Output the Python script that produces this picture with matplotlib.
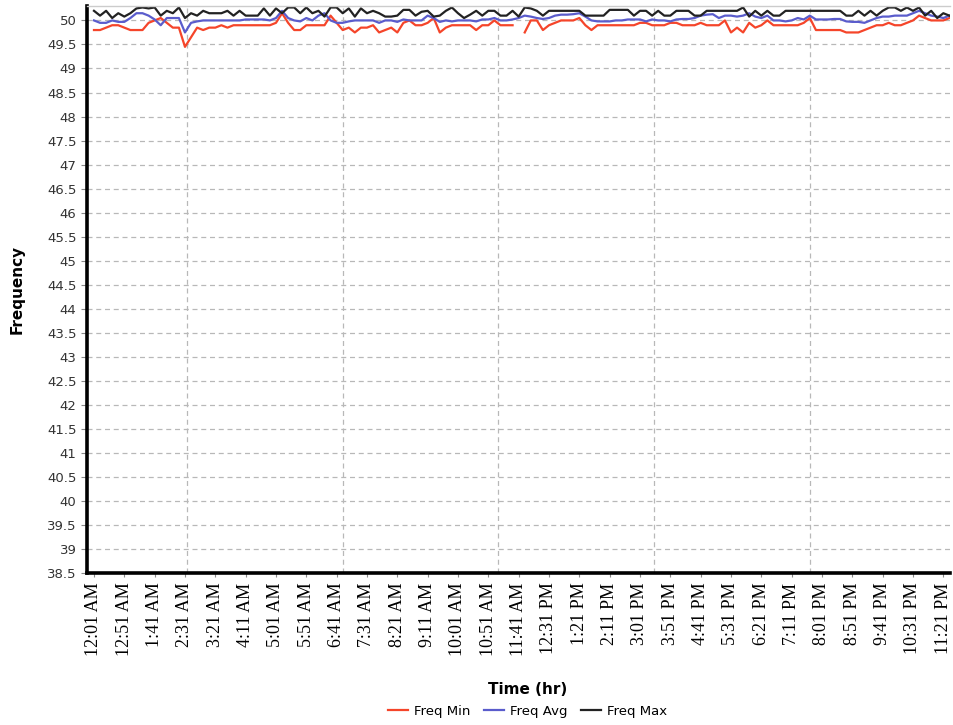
import matplotlib
matplotlib.use("Agg")
import matplotlib.pyplot as plt
import numpy as np

# 10-minute samples starting 12:01 AM
tick_labels = ['12:01 AM', '12:51 AM', '1:41 AM', '2:31 AM', '3:21 AM', '4:11 AM', '5:01 AM',
               '5:51 AM', '6:41 AM', '7:31 AM', '8:21 AM', '9:11 AM', '10:01 AM', '10:51 AM',
               '11:41 AM', '12:31 PM', '1:21 PM', '2:11 PM', '3:01 PM', '3:51 PM', '4:41 PM',
               '5:31 PM', '6:21 PM', '7:11 PM', '8:01 PM', '8:51 PM', '9:41 PM', '10:31 PM',
               '11:21 PM']

freq_min = [49.8, 49.8, 49.85, 49.9, 49.9, 49.85, 49.8, 49.8, 49.8, 49.95,
            50.0, 50.05, 49.95, 49.85, 49.85, 49.45, 49.65, 49.85, 49.8, 49.85,
            49.85, 49.9, 49.85, 49.9, 49.9, 49.9, 49.9, 49.9, 49.9, 49.9,
            49.95, 50.15, 49.95, 49.8, 49.8, 49.9, 49.9, 49.9, 49.9, 50.1,
            49.95, 49.8, 49.85, 49.75, 49.85, 49.85, 49.9, 49.75, 49.8, 49.85,
            49.75, 49.95, 50.0, 49.9, 49.9, 49.95, 50.05, 49.75, 49.85, 49.9,
            49.9, 49.9, 49.9, 49.8, 49.9, 49.9, 50.0, 49.9, 49.9, 49.9,
            np.nan, 49.75, 50.0, 50.0, 49.8, 49.9, 49.95, 50.0, 50.0, 50.0,
            50.05, 49.9, 49.8, 49.9, 49.9, 49.9, 49.9, 49.9, 49.9, 49.9,
            49.95, 49.95, 49.9, 49.9, 49.9, 49.95, 49.95, 49.9, 49.9, 49.9,
            49.95, 49.9, 49.9, 49.9, 50.0, 49.75, 49.85, 49.75, 49.95, 49.85,
            49.9, 50.0, 49.9, 49.9, 49.9, 49.9, 49.9, 49.95, 50.05, 49.8,
            49.8, 49.8, 49.8, 49.8, 49.75, 49.75, 49.75, 49.8, 49.85, 49.9,
            49.9, 49.95, 49.9, 49.9, 49.95, 50.0, 50.1, 50.05, 50.0, 50.0,
            50.0, 50.05]

freq_avg = [50.0, 49.95, 49.95, 50.0, 49.97, 49.97, 50.05, 50.15, 50.15, 50.1,
            50.02, 49.9, 50.05, 50.05, 50.05, 49.75, 49.95, 49.98, 50.0, 50.0,
            50.0, 50.0, 50.0, 50.0, 50.0, 50.02, 50.02, 50.02, 50.02, 50.0,
            50.05, 50.2, 50.05, 50.0, 49.98, 50.05, 50.0, 50.1, 50.15, 50.0,
            49.95, 49.95, 49.98, 50.0, 50.0, 50.0, 50.0, 49.95, 50.0, 50.0,
            49.97, 50.02, 50.0, 50.0, 50.0, 50.1, 50.05, 49.97, 50.0, 49.98,
            50.0, 50.0, 50.0, 49.98, 50.02, 50.02, 50.05, 50.0, 50.0, 50.02,
            50.05, 50.1, 50.08, 50.05, 50.03, 50.05, 50.1, 50.12, 50.12, 50.13,
            50.15, 50.08, 50.0, 49.98, 49.98, 49.98, 50.0, 50.0, 50.02, 50.02,
            50.02, 49.98, 50.02, 50.0, 50.0, 49.98, 50.02, 50.03, 50.03, 50.05,
            50.1, 50.12, 50.13, 50.05, 50.1, 50.1, 50.08, 50.1, 50.15, 50.08,
            50.05, 50.1, 50.0, 50.0, 49.98, 50.0, 50.05, 50.02, 50.1, 50.02,
            50.02, 50.02, 50.03, 50.03, 49.98, 49.97, 49.97, 49.95, 50.0, 50.05,
            50.08, 50.08, 50.1, 50.1, 50.1, 50.15, 50.2, 50.15, 50.1, 50.08,
            50.05, 50.1]

freq_max = [50.2, 50.1, 50.2, 50.05, 50.15, 50.08, 50.15, 50.25, 50.27, 50.25,
            50.27, 50.1, 50.2, 50.15, 50.27, 50.05, 50.15, 50.1, 50.2, 50.15,
            50.15, 50.15, 50.2, 50.1, 50.2, 50.1, 50.1, 50.1, 50.25, 50.1,
            50.25, 50.15, 50.27, 50.27, 50.15, 50.27, 50.15, 50.2, 50.08, 50.27,
            50.27, 50.15, 50.25, 50.08, 50.25, 50.15, 50.2, 50.15, 50.08, 50.08,
            50.1, 50.22, 50.22, 50.1, 50.18, 50.2, 50.08, 50.1, 50.2, 50.27,
            50.15, 50.05, 50.12, 50.2, 50.1, 50.2, 50.2, 50.1, 50.1, 50.2,
            50.08, 50.27, 50.25, 50.2, 50.1, 50.2, 50.2, 50.2, 50.2, 50.2,
            50.2, 50.1, 50.1, 50.1, 50.1, 50.22, 50.22, 50.22, 50.22, 50.1,
            50.2, 50.2, 50.1, 50.2, 50.1, 50.1, 50.2, 50.2, 50.2, 50.1,
            50.1, 50.2, 50.2, 50.2, 50.2, 50.2, 50.2, 50.27, 50.08, 50.2,
            50.1, 50.2, 50.1, 50.1, 50.2, 50.2, 50.2, 50.2, 50.2, 50.2,
            50.2, 50.2, 50.2, 50.2, 50.1, 50.1, 50.2, 50.1, 50.2, 50.1,
            50.2, 50.27, 50.27, 50.2, 50.27, 50.2, 50.27, 50.1, 50.2, 50.05,
            50.15, 50.1]

x = np.arange(len(freq_min))
yticks = np.arange(38.5, 50.01, 0.5)

fig = plt.figure(figsize=(9.54, 7.25), dpi=100)
ax = fig.add_axes([0.0912, 0.2097, 0.9046, 0.782])

ax.plot(x, freq_min, color='#f5452a', lw=1.6, label='Freq Min')
ax.plot(x, freq_avg, color='#5a5ccc', lw=1.6, label='Freq Avg')
ax.plot(x, freq_max, color='#222222', lw=1.6, label='Freq Max')

ax.set_xlim(-1.15, 141.1)
ax.set_ylim(38.5, 50.3)

ax.set_yticks(yticks)
ax.set_yticklabels(['%g' % v for v in yticks])
ax.set_xticks(np.arange(0, len(tick_labels) * 5, 5))
ax.set_xticklabels(tick_labels, rotation=90, family='Liberation Serif', fontsize=13)
ax.tick_params(axis='y', labelsize=9.5, labelcolor='#333333', length=4, color='#888888')
ax.tick_params(axis='x', length=3, color='#888888', pad=4)

# grid
for v in yticks[1:]:
    ax.axhline(v, color='#b8b8b8', lw=0.9, ls=(0, (4, 3)), zorder=0)
for gx in [15.3, 41.0, 66.6, 92.3, 118.0]:
    ax.axvline(gx, color='#b8b8b8', lw=0.9, ls=(0, (4, 3)), zorder=0)

ax.spines['left'].set_linewidth(2.6)
ax.spines['bottom'].set_linewidth(2.6)
ax.spines['right'].set_visible(False)
ax.spines['top'].set_color('#cccccc')
ax.spines['top'].set_linewidth(1)

ax.set_ylabel('Frequency', fontsize=11, fontweight='bold', labelpad=16)
ax.set_xlabel('Time (hr)', fontsize=11, fontweight='bold')
ax.xaxis.set_label_coords((528 - 87) / 863, -0.192)

fig.legend(loc='center', bbox_to_anchor=(0.553, 0.019), ncol=3, frameon=False,
           fontsize=9.5, handlelength=1.5, columnspacing=1.0, handletextpad=0.5)

fig.savefig('out.png', dpi=100)
